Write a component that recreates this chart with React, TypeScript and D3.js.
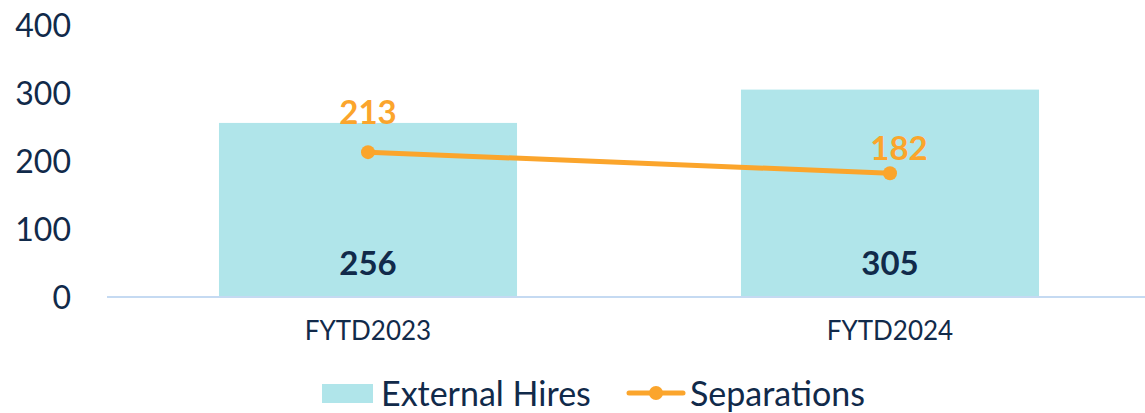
import React from "react";
import * as d3 from "d3";

const categories = ["FYTD2023", "FYTD2024"];
const externalHires = [256, 305];
const separations = [213, 182];
const yTicks = [0, 100, 200, 300, 400];
const seriesNames = ["External Hires", "Separations"];

const W = 1145;
const H = 413;
const NAVY = "#112a4a";
const BAR = "#b0e5ea";
const ORANGE = "#fba52c";
const AXIS = "#c5daf2";
const FONT = "Lato, 'Open Sans', sans-serif";

// label nudges (style)
const sepLabelDx = [0, 9];
const sepLabelDy = [-28, -13];

export default function App() {
  const x = d3
    .scaleBand<string>()
    .domain(categories)
    .range([107, 1151])
    .paddingInner(0.429)
    .paddingOuter(0.2145);
  const y = d3.scaleLinear().domain([0, 400]).range([297, 25]);
  const cx = (c: string) => (x(c) as number) + x.bandwidth() / 2;

  const line = d3
    .line<number>()
    .x((_, i) => cx(categories[i]))
    .y((d) => y(d));

  return (
    <svg
      width={W}
      height={H}
      style={{ position: "absolute", left: 0, top: 0, background: "#fff" }}
      fontFamily={FONT}
    >
      {/* y tick labels */}
      {yTicks.map((t) => (
        <text
          key={t}
          x={71}
          y={y(t)}
          dy="0.36em"
          textAnchor="end"
          fontSize={32}
          fill={NAVY}
        >
          {t}
        </text>
      ))}

      {/* bars */}
      {categories.map((c, i) => (
        <rect
          key={c}
          x={x(c)}
          y={y(externalHires[i])}
          width={x.bandwidth()}
          height={y(0) - y(externalHires[i])}
          fill={BAR}
        />
      ))}

      {/* axis line */}
      <line x1={107} x2={W} y1={y(0)} y2={y(0)} stroke={AXIS} strokeWidth={2} />

      {/* bar labels */}
      {categories.map((c, i) => (
        <text
          key={c}
          x={cx(c)}
          y={y(0) - 22}
          textAnchor="middle"
          fontSize={33}
          fontWeight={700}
          fill={NAVY}
        >
          {externalHires[i]}
        </text>
      ))}

      {/* line */}
      <path d={line(separations) || ""} fill="none" stroke={ORANGE} strokeWidth={5} strokeLinecap="round" />
      {separations.map((v, i) => (
        <circle key={i} cx={cx(categories[i])} cy={y(v)} r={7} fill={ORANGE} />
      ))}
      {separations.map((v, i) => (
        <text
          key={i}
          x={cx(categories[i]) + sepLabelDx[i]}
          y={y(v) + sepLabelDy[i]}
          textAnchor="middle"
          fontSize={33}
          fontWeight={700}
          fill={ORANGE}
        >
          {v}
        </text>
      ))}

      {/* category labels */}
      {categories.map((c) => (
        <text key={c} x={cx(c)} y={340} textAnchor="middle" fontSize={26} fill={NAVY}>
          {c}
        </text>
      ))}

      {/* legend */}
      <rect x={322} y={384} width={51} height={19} fill={BAR} />
      <text x={381} y={406} fontSize={34} fill={NAVY}>
        {seriesNames[0]}
      </text>
      <line x1={629} x2={683} y1={393} y2={393} stroke={ORANGE} strokeWidth={5} strokeLinecap="round" />
      <circle cx={656} cy={393} r={7} fill={ORANGE} />
      <text x={690} y={406} fontSize={34} fill={NAVY}>
        {seriesNames[1]}
      </text>
    </svg>
  );
}
